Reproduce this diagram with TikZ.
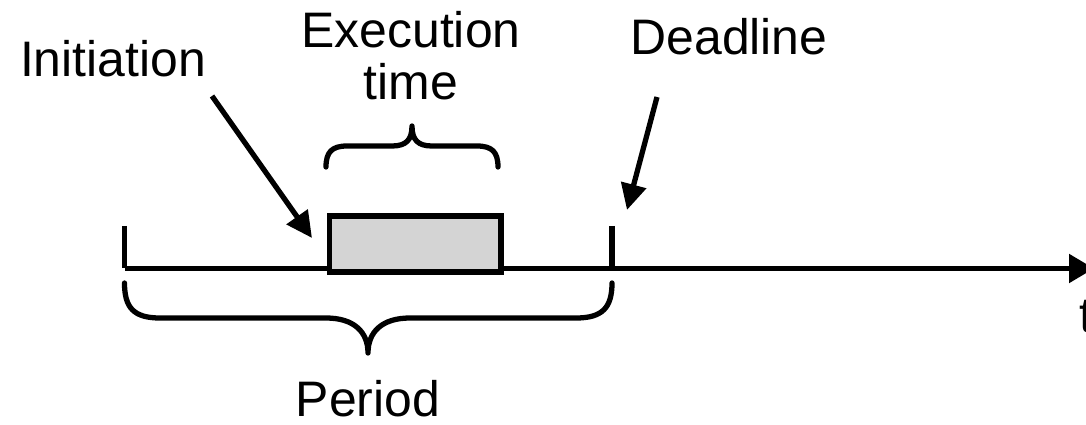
\documentclass[tikz,border=0pt]{standalone}
\usepackage{fontspec}
\setmainfont{Liberation Sans}
\usetikzlibrary{arrows.meta}
\begin{document}
\begin{tikzpicture}[x=0.02cm,y=-0.02cm,
  thick line/.style={line width=3pt},
  label text/.style={font=\fontsize{28.4pt}{29.6pt}\selectfont, inner sep=0pt},
  pointer/.style={thick line, -{Triangle[length=0.52cm,width=0.5cm]}},
  axis arrow/.style={thick line, -{Triangle[length=0.5cm,width=0.56cm]}},
  brace line/.style={thick line, line cap=round, line join=round},
  task box/.style={draw, thick line, fill=black!17, minimum width=3.44cm, minimum height=1.12cm, inner sep=0pt}]
\useasboundingbox (0,0) rectangle (1086,425);

% time axis and its marks
\coordinate (axisL) at (124.5,268.5);
\coordinate (axisR) at (1094,268.5);
\coordinate (tickLtop) at (124.5,226);
\coordinate (tickDtop) at (612,226);
\coordinate (tickDbot) at (612,268.5);
\draw[axis arrow] (axisL) -- (axisR);
\draw[thick line] (tickLtop) -- (axisL);
\draw[thick line] (tickDtop) -- (tickDbot);

% the job's execution block
\node[task box, anchor=north west] (box) at (326.5,213.5) {};

% labels
\node[label text, anchor=base] (init) at (113,77) {Initiation};
\node[label text, anchor=south, align=center] (exec) at (411,100) {Execution\\time};
\node[label text, anchor=base] (dead) at (729,55) {Deadline};
\node[label text, anchor=base] (period) at (368,417) {Period};
\node[label text, anchor=base west] (tlab) at (1079,333) {t};

% pointers
\coordinate (initTip) at (312,238);
\coordinate (deadTip) at (627,210);
\coordinate (initStart) at (212,96);
\coordinate (deadStart) at (657,97);
\draw[pointer] (initStart) -- (initTip);
\draw[pointer] (deadStart) -- (deadTip);

% brace over the execution block
\draw[brace line] (326,167) .. controls (326,152) and (332,146) .. (347,146)
  -- (392,146) .. controls (406,146) and (412,140) .. (412,126)
  .. controls (412,140) and (418,146) .. (432,146)
  -- (477,146) .. controls (492,146) and (498,152) .. (498,167);

% brace under the whole period
\draw[brace line] (124.5,283) .. controls (124.5,308) and (134,318) .. (160,318)
  -- (326,318) .. controls (354,318) and (368,332) .. (368,353)
  .. controls (368,332) and (382,318) .. (410,318)
  -- (576,318) .. controls (602,318) and (612,308) .. (612,283);
\end{tikzpicture}
\end{document}
